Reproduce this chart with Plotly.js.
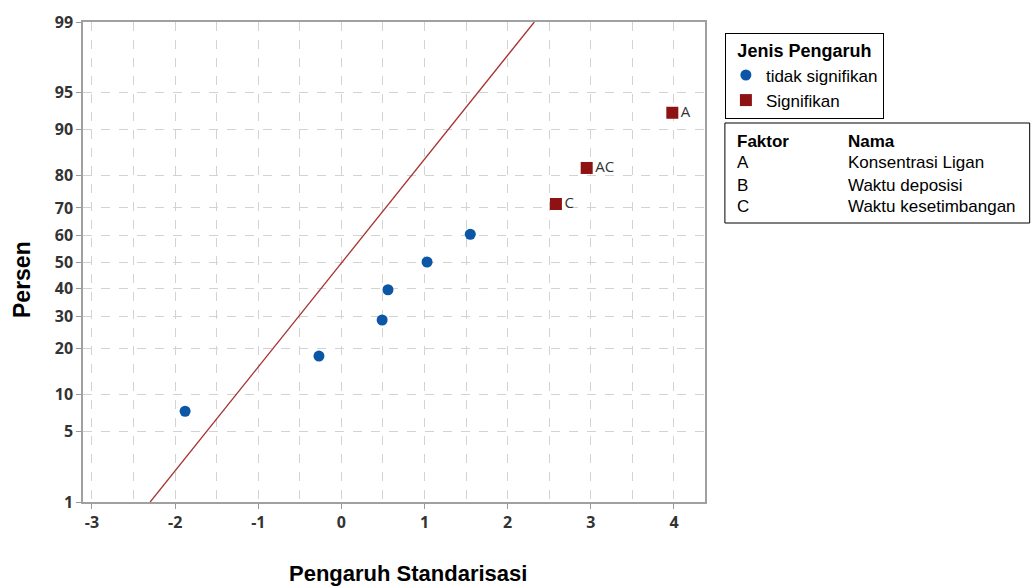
<!DOCTYPE html>
<html>
<head>
<meta charset="utf-8">
<script src="https://cdn.plot.ly/plotly-3.0.1.min.js"></script>
<style>html,body{margin:0;padding:0;background:#fff;}#chart{width:1032px;height:586px;}</style>
</head>
<body>
<div id="chart"></div>
<script>
// ---- data ----
const nsEffect = [-1.88, -0.27, 0.49, 0.56, 1.03, 1.55];
const nsPercent = [7.4, 18.1, 28.7, 39.4, 50.0, 60.6];
const sigEffect = [2.58, 2.95, 3.98];
const sigPercent = [71.3, 81.9, 92.6];
const sigLabels = ["C", "AC", "A"];
const lineEffect = [-2.30, 2.32];
const linePercent = [1, 99];
const yTickPercent = [1, 5, 10, 20, 30, 40, 50, 60, 70, 80, 90, 95, 99];
const xTicks = [-3, -2, -1, 0, 1, 2, 3, 4];
const factorCodes = ["A", "B", "C"];
const factorNames = ["Konsentrasi Ligan", "Waktu deposisi", "Waktu kesetimbangan"];

// normal probability scale (inverse normal CDF, Acklam)
function probit(pct) {
  const p = pct / 100;
  const a = [-3.969683028665376e+01, 2.209460984245205e+02, -2.759285104469687e+02, 1.383577518672690e+02, -3.066479806614716e+01, 2.506628277459239e+00];
  const b = [-5.447609879822406e+01, 1.615858368580409e+02, -1.556989798598866e+02, 6.680131188771972e+01, -1.328068155288572e+01];
  const c = [-7.784894002430293e-03, -3.223964580411365e-01, -2.400758277161838e+00, -2.549732539343734e+00, 4.374664141464968e+00, 2.938163982698783e+00];
  const d = [7.784695709041462e-03, 3.224671290700398e-01, 2.445134137142996e+00, 3.754408661907416e+00];
  const pl = 0.02425, ph = 1 - pl;
  let q, r;
  if (p < pl) {
    q = Math.sqrt(-2 * Math.log(p));
    return (((((c[0]*q+c[1])*q+c[2])*q+c[3])*q+c[4])*q+c[5]) / ((((d[0]*q+d[1])*q+d[2])*q+d[3])*q+1);
  } else if (p <= ph) {
    q = p - 0.5; r = q*q;
    return (((((a[0]*r+a[1])*r+a[2])*r+a[3])*r+a[4])*r+a[5])*q / (((((b[0]*r+b[1])*r+b[2])*r+b[3])*r+b[4])*r+1);
  } else {
    q = Math.sqrt(-2 * Math.log(1 - p));
    return -(((((c[0]*q+c[1])*q+c[2])*q+c[3])*q+c[4])*q+c[5]) / ((((d[0]*q+d[1])*q+d[2])*q+d[3])*q+1);
  }
}

const blue = "#0b57a6";
const red = "#8e1212";
const txt = "#333333";
const arial = "Liberation Sans, Arial, sans-serif";

const traces = [
  {
    x: lineEffect, y: linePercent.map(probit), mode: "lines",
    line: {color: "#a83232", width: 1.3}, showlegend: false, hoverinfo: "skip"
  },
  {
    x: nsEffect, y: nsPercent.map(probit), mode: "markers", name: "tidak signifikan",
    marker: {symbol: "circle", size: 11, color: blue}
  },
  {
    x: sigEffect, y: sigPercent.map(probit), mode: "markers", name: "Signifikan",
    marker: {symbol: "square", size: 12, color: red}
  },
  {
    x: sigEffect, y: sigPercent.map(probit), mode: "markers+text", text: sigLabels,
    textposition: "middle right", textfont: {family: "Open Sans, sans-serif", size: 15, color: txt},
    marker: {size: 12, opacity: 0}, showlegend: false, hoverinfo: "skip"
  }
];

const annotations = [
  {xref: "paper", yref: "paper", x: (22 - 83) / 622, y: (502 - 280) / 480, xanchor: "center", yanchor: "middle",
   text: "<b>Persen</b>", textangle: -90, showarrow: false, font: {family: arial, size: 23, color: "#000"}},
  {xref: "paper", yref: "paper", x: (408 - 83) / 622, y: (502 - 573) / 480, xanchor: "center", yanchor: "middle",
   text: "<b>Pengaruh Standarisasi</b>", showarrow: false, font: {family: arial, size: 22, color: "#000"}}
];
const tf = {family: arial, size: 17, color: "#000"};
const rowY = [(502 - 163) / 480, (502 - 185) / 480, (502 - 207) / 480];
annotations.push({xref: "paper", yref: "paper", x: 1.048, y: (502 - 141) / 480, xanchor: "left", yanchor: "middle", text: "<b>Faktor</b>", showarrow: false, font: tf});
annotations.push({xref: "paper", yref: "paper", x: 1.227, y: (502 - 141) / 480, xanchor: "left", yanchor: "middle", text: "<b>Nama</b>", showarrow: false, font: tf});
factorCodes.forEach((c, i) => {
  annotations.push({xref: "paper", yref: "paper", x: 1.048, y: rowY[i], xanchor: "left", yanchor: "middle", text: c, showarrow: false, font: tf});
  annotations.push({xref: "paper", yref: "paper", x: 1.227, y: rowY[i], xanchor: "left", yanchor: "middle", text: factorNames[i], showarrow: false, font: tf});
});

const layout = {
  width: 1032, height: 586,
  margin: {l: 83, r: 327, t: 22, b: 84},
  paper_bgcolor: "#fff", plot_bgcolor: "#fff",
  xaxis: {
    range: [-3.108, 4.373], tickvals: xTicks, ticktext: xTicks.map(String),
    showgrid: true, gridcolor: "#d3d3d3", griddash: "dash", gridwidth: 1,
    minor: {dtick: 0.5, tick0: 0, showgrid: true, gridcolor: "#d3d3d3", griddash: "dash", ticks: ""},
    zeroline: false, showline: true, mirror: true, linecolor: "#a0a0a0", linewidth: 1.5,
    ticks: "outside", ticklen: 5, tickcolor: "#999",
    tickfont: {family: "Open Sans, sans-serif", size: 16, color: txt, weight: "bold"}
  },
  yaxis: {
    range: [probit(1), probit(99)], tickvals: yTickPercent.map(probit), ticktext: yTickPercent.map(String),
    showgrid: true, gridcolor: "#d3d3d3", griddash: "dash", gridwidth: 1,
    zeroline: false, showline: true, mirror: true, linecolor: "#a0a0a0", linewidth: 1.5,
    ticks: "outside", ticklen: 5, tickcolor: "#999",
    tickfont: {family: "Open Sans, sans-serif", size: 16, color: txt, weight: "bold"}
  },
  legend: {
    x: 1.032, y: 0.977, xanchor: "left", yanchor: "top",
    bordercolor: "#000", borderwidth: 1, bgcolor: "#fff",
    title: {text: "<b>Jenis Pengaruh</b>", side: "top center", font: {family: arial, size: 18, color: "#000"}},
    font: {family: arial, size: 17, color: "#000"},
    itemwidth: 30, tracegroupgap: 0, entrywidth: 160, entrywidthmode: "pixels"
  },
  shapes: [
    {type: "rect", xref: "paper", yref: "paper", x0: 1.032, x1: 1.522, y0: (502 - 223) / 480, y1: (502 - 123) / 480,
     line: {color: "#000", width: 1}, fillcolor: "rgba(0,0,0,0)"}
  ],
  annotations: annotations
};

Plotly.newPlot("chart", traces, layout, {displayModeBar: false});
</script>
</body>
</html>
